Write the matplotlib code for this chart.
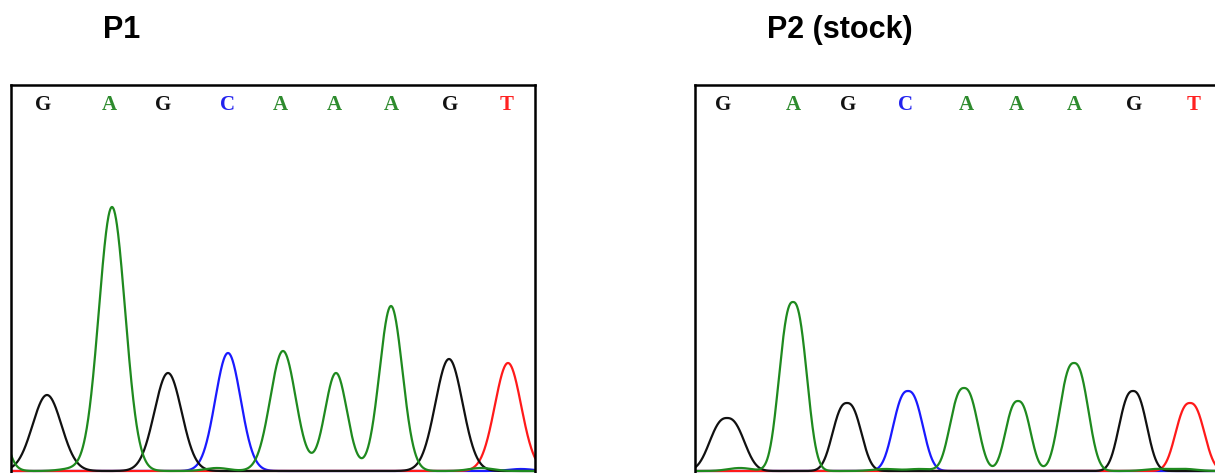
import numpy as np
import matplotlib
matplotlib.use("Agg")
import matplotlib.pyplot as plt

# called bases and where they sit along each trace (scan units)
bases = ["G", "A", "G", "C", "A", "A", "A", "G", "T"]
p1_base_pos = [32, 98, 152, 216, 269, 323, 380, 439, 496]
p2_base_pos = [28, 98, 153, 211, 271, 321, 379, 439, 499]

# main peaks: base, position, height, half width at half height
p1_peak_base = ["A", "G", "A", "G", "C", "A", "A", "A", "G", "T"]
p1_peak_pos = [-22, 36, 101, 157, 217, 272, 325, 380, 438, 497]
p1_peak_h = [120, 76, 264, 98, 118, 120, 98, 165, 112, 108]
p1_peak_hw = [13, 17, 15.5, 16, 15, 15, 13, 13.5, 16, 15.5]

p2_peak_base = ["G", "A", "G", "C", "A", "A", "A", "G", "T"]
p2_peak_pos = [32, 98, 152, 213, 269, 323, 379, 438, 495]
p2_peak_h = [53, 169, 68, 80, 83, 70, 108, 80, 68]
p2_peak_hw = [18.5, 15, 15.5, 16, 15, 13.5, 15.5, 15, 15.5]

# small background bumps
p1_minor_base = ["A", "A", "A", "C"]
p1_minor_pos = [60, 206, 470, 510]
p1_minor_h = [2, 3, 3, 2]

p2_minor_base = ["A", "A", "A", "A", "A"]
p2_minor_pos = [45, 190, 225, 462, 490]
p2_minor_h = [3, 2, 2, 2, 2]

colors = {"G": "#111111", "A": "#1f8a1f", "C": "#1a1aff", "T": "#ff1a1a"}
letter_colors = {"G": "#111111", "A": "#2e8b2e", "C": "#2222ee", "T": "#ff2222"}


def trace(x, base, peaks, minors, power):
    y = np.zeros_like(x)
    for b, p, h, hw in zip(*peaks):
        if b == base:
            y += h * np.exp(-np.log(2) * (np.abs(x - p) / hw) ** power)
    for b, p, h in zip(*minors):
        if b == base:
            y += h * np.exp(-(x - p) ** 2 / (2 * 12 ** 2))
    return y


def draw_panel(ax, base_pos, peaks, minors, power, xmax):
    x = np.linspace(-40, xmax + 40, 2000)
    for b in ["C", "T", "G", "A"]:
        ax.plot(x, trace(x, b, peaks, minors, power), color=colors[b], lw=1.6)
    for b, p in zip(bases, base_pos):
        ax.text(p, 366, b, color=letter_colors[b], ha="center", va="center",
                fontsize=15, fontweight="bold", family="Liberation Serif")
    ax.set_xlim(0, xmax)
    ax.set_ylim(-9, 386)
    ax.set_xticks([])
    ax.set_yticks([])
    for s in ax.spines.values():
        s.set_linewidth(1.8)
        s.set_color("black")


W, H = 1215, 473
fig = plt.figure(figsize=(W / 100, H / 100), dpi=100)

# left panel: x 11..535 px, top at 85 px, bottom runs off the image
ax1 = fig.add_axes([11 / W, 1 - 480 / H, 524 / W, 395 / H])
draw_panel(ax1, p1_base_pos,
           (p1_peak_base, p1_peak_pos, p1_peak_h, p1_peak_hw),
           (p1_minor_base, p1_minor_pos, p1_minor_h), 2.0, 524)

# right panel: starts at 695 px and runs off the right edge
ax2 = fig.add_axes([695 / W, 1 - 480 / H, 560 / W, 395 / H])
draw_panel(ax2, p2_base_pos,
           (p2_peak_base, p2_peak_pos, p2_peak_h, p2_peak_hw),
           (p2_minor_base, p2_minor_pos, p2_minor_h), 2.5, 560)

fig.text(122 / W, 1 - 30 / H, "P1", ha="center", va="center", fontsize=22,
         fontweight="bold", family="Liberation Sans")
fig.text(840 / W, 1 - 30 / H, "P2 (stock)", ha="center", va="center", fontsize=22,
         fontweight="bold", family="Liberation Sans")

fig.savefig("out.png", dpi=100)
